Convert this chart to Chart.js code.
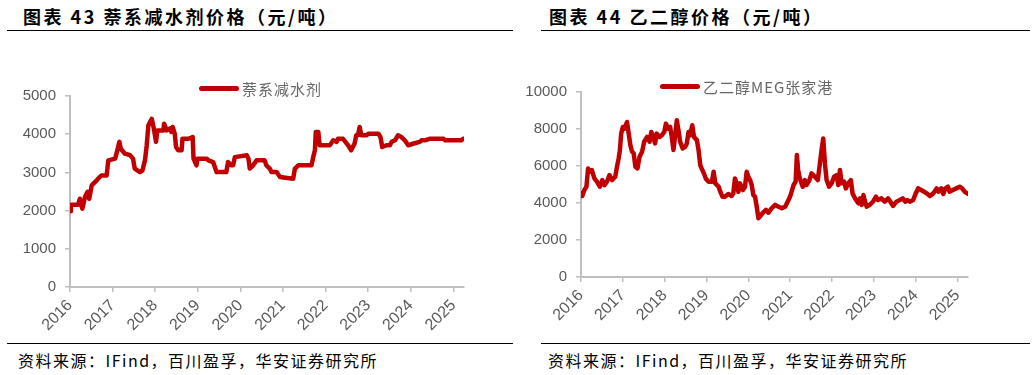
<!DOCTYPE html>
<html>
<head>
<meta charset="utf-8">
<script src="https://cdn.jsdelivr.net/npm/chart.js@4.4.1/dist/chart.umd.min.js"></script>
<style>
  body { margin: 0; background: #fff; width: 1034px; height: 375px; position: relative; overflow: hidden;
         font-family: "Noto Sans CJK SC", "Liberation Sans", sans-serif; }
  .title { position: absolute; top: 3px; font-size: 18px; letter-spacing: 2.5px; font-weight: bold; color: #000; }
  .rule { position: absolute; height: 0; border-top: 1.5px solid #000; }
  .src { position: absolute; top: 348px; font-size: 16px; letter-spacing: 1.5px; color: #000; }
  .box { position: absolute; top: 40px; height: 300px; }
  .legend { position: absolute; font-size: 15px; letter-spacing: 1px; color: #666; display: flex; align-items: center; }
  .legend i { display: inline-block; width: 40px; height: 5px; border-radius: 3px; background: #C00000; margin-right: 3px; }
</style>
</head>
<body>
<div class="title" style="left:23px">图表 43 萘系减水剂价格（元/吨）</div>
<div class="title" style="left:549px">图表 44 乙二醇价格（元/吨）</div>
<div class="rule" style="left:7px;width:506px;top:30px"></div>
<div class="rule" style="left:541px;width:489px;top:30px"></div>
<div class="rule" style="left:7px;width:506px;top:343px"></div>
<div class="rule" style="left:541px;width:489px;top:343px"></div>
<div class="src" style="left:18px">资料来源：IFind，百川盈孚，华安证券研究所</div>
<div class="src" style="left:548px">资料来源：IFind，百川盈孚，华安证券研究所</div>

<div class="box" style="left:0;width:520px"><canvas id="c1"></canvas></div>
<div class="box" style="left:520px;width:514px"><canvas id="c2"></canvas></div>
<div class="legend" style="left:199px;top:78px"><i></i>萘系减水剂</div>
<div class="legend" style="left:660px;top:76px"><i></i>乙二醇MEG张家港</div>

<script>
// 萘系减水剂 (元/吨), x = 年份(小数)
const nsX = [2016.00,2016.02,2016.19,2016.23,2016.29,2016.35,2016.41,2016.45,2016.51,2016.59,2016.66,2016.74,2016.86,2016.90,
  2017.06,2017.10,2017.16,2017.19,2017.29,2017.41,2017.48,2017.52,2017.64,2017.70,2017.76,2017.80,2017.84,2017.92,2017.97,
  2018.02,2018.05,2018.19,2018.21,2018.27,2018.35,2018.38,2018.41,2018.46,2018.49,2018.54,2018.62,2018.64,2018.78,2018.88,2018.90,2018.97,2018.99,
  2019.21,2019.25,2019.36,2019.44,2019.67,2019.71,2019.79,2019.83,2019.87,
  2020.15,2020.19,2020.22,2020.30,2020.38,2020.57,2020.61,2020.69,2020.73,2020.85,2020.93,
  2021.24,2021.28,2021.36,2021.67,2021.71,2021.75,2021.77,2021.83,2021.86,
  2022.10,2022.18,2022.26,2022.29,2022.41,2022.53,2022.60,2022.64,2022.68,2022.72,2022.76,2022.80,2022.84,2022.96,
  2023.00,2023.24,2023.29,2023.33,2023.43,2023.51,2023.55,2023.63,2023.70,2023.78,2023.86,2023.94,
  2024.05,2024.21,2024.25,2024.33,2024.44,2024.77,2024.81,2025.19,2025.23,2025.27];
const nsY = [1980,2150,2150,2310,2050,2350,2490,2310,2660,2750,2835,2920,2920,3315,
  3360,3530,3800,3620,3490,3450,3360,3100,3010,3050,3315,3700,4230,4400,4140,
  3800,4100,4100,4275,4100,4150,4060,4190,4010,3665,3580,3580,3880,3880,3925,3360,3185,3360,
  3360,3315,3270,3010,3010,3270,3185,3185,3400,
  3450,3360,3100,3185,3315,3315,3185,3100,3010,3010,2880,
  2835,3100,3185,3185,3400,3580,4060,4060,3710,
  3710,3840,3800,3880,3880,3710,3580,3665,3750,3970,3970,4190,3970,3970,
  4010,4010,3925,3665,3710,3710,3800,3840,3970,3925,3840,3710,
  3750,3800,3840,3840,3880,3880,3840,3840,3880,3880];

// 乙二醇MEG张家港 (元/吨)
const megX = [2016.00,2016.03,2016.08,2016.13,2016.17,2016.21,2016.26,2016.32,2016.38,2016.45,2016.51,2016.56,2016.62,2016.68,2016.74,2016.82,2016.86,2016.90,2016.93,2016.96,
  2017.00,2017.04,2017.10,2017.14,2017.18,2017.22,2017.26,2017.30,2017.35,2017.40,2017.46,2017.51,2017.58,2017.64,2017.68,2017.73,2017.77,2017.81,2017.88,2017.93,2017.99,
  2018.03,2018.08,2018.13,2018.17,2018.21,2018.25,2018.29,2018.33,2018.37,2018.43,2018.49,2018.53,2018.57,2018.61,2018.66,2018.70,2018.77,2018.81,2018.85,2018.90,2018.94,2018.98,
  2019.05,2019.13,2019.17,2019.21,2019.29,2019.33,2019.38,2019.44,2019.52,2019.60,2019.64,2019.68,2019.72,2019.76,2019.80,2019.87,2019.92,2019.96,
  2020.00,2020.04,2020.08,2020.12,2020.16,2020.20,2020.24,2020.28,2020.34,2020.42,2020.48,2020.56,2020.64,2020.72,2020.80,2020.88,2020.96,
  2021.01,2021.08,2021.13,2021.16,2021.19,2021.23,2021.30,2021.35,2021.39,2021.46,2021.51,2021.59,2021.66,2021.71,2021.75,2021.79,2021.83,2021.87,2021.93,2021.99,
  2022.05,2022.11,2022.15,2022.19,2022.23,2022.29,2022.33,2022.39,2022.45,2022.49,2022.55,2022.63,2022.67,2022.71,2022.75,2022.79,2022.83,2022.90,2022.98,
  2023.05,2023.10,2023.18,2023.26,2023.34,2023.42,2023.46,2023.54,2023.62,2023.69,2023.75,2023.80,2023.86,2023.94,
  2024.00,2024.06,2024.13,2024.20,2024.28,2024.34,2024.42,2024.50,2024.55,2024.61,2024.66,2024.71,2024.77,2024.81,2024.89,2024.97,
  2025.05,2025.11,2025.17,2025.25];
const megY = [4520,4380,4700,4880,5870,5690,5780,5330,5150,4880,5240,4970,5150,5510,5240,5420,5960,6410,6860,7750,
  8110,8020,8380,7750,7130,6770,6680,5960,5870,6500,6770,7310,7570,7310,7840,7570,7220,7750,7570,7660,7840,
  8290,8020,8110,7570,6860,7660,8470,7930,7310,6950,7040,7220,7840,7660,8200,7570,7400,6860,6050,5780,5600,5330,
  5150,5150,5690,5060,4880,4610,4340,4340,4490,4380,4520,5330,5060,4610,5060,4700,4880,5690,
  5420,5240,4970,4430,4340,3800,3180,3270,3450,3630,3480,3720,3900,3800,3720,3800,4160,
  4430,4970,5150,6590,5780,5330,4880,5240,4970,5240,5600,5420,5240,6140,6860,7490,6140,5240,4880,5060,
  5420,5510,4970,5780,5060,5150,4790,5060,5240,4520,4250,3980,4250,3900,4430,4070,3800,3900,4070,
  4340,4160,4250,4070,4250,3980,3840,4070,4160,4250,4070,4160,4070,4160,
  4520,4790,4700,4610,4490,4380,4520,4790,4610,4790,4490,4790,4880,4610,4700,4790,
  4880,4790,4610,4490];

const yearMin = 2016, yearMax = 2025.25;

function makeChart(id, xs, ys, label, yMax, yStep, pad, yWidth, xHeight) {
  const pts = xs.map((x, i) => ({ x: x, y: ys[i] }));
  const axisGray = '#BFBFBF';
  const tickFont = { family: '"Liberation Sans", Arial, sans-serif', size: 15 };
  return new Chart(document.getElementById(id), {
    type: 'line',
    data: {
      datasets: [{
        label: label,
        data: pts,
        borderColor: '#C00000',
        borderWidth: 4.5,
        pointRadius: 0,
        tension: 0,
        borderJoinStyle: 'round',
        borderCapStyle: 'round'
      }]
    },
    options: {
      responsive: true,
      maintainAspectRatio: false,
      animation: false,
      layout: { padding: pad },
      plugins: { legend: { display: false }, tooltip: { enabled: false } },
      scales: {
        x: {
          type: 'linear',
          min: yearMin,
          max: yearMax,
          afterFit(s) { s.height = xHeight; },
          grid: { drawOnChartArea: false, drawTicks: true, tickLength: 5, color: axisGray, lineWidth: 1.5 },
          border: { color: axisGray, width: 2 },
          ticks: {
            stepSize: 1,
            includeBounds: false,
            autoSkip: false,
            maxRotation: 45,
            minRotation: 45,
            color: '#595959',
            font: { family: tickFont.family, size: 16 },
            padding: 4,
            callback: v => Number.isInteger(v) ? String(v) : null
          }
        },
        y: {
          min: 0,
          max: yMax,
          afterFit(s) { s.width = yWidth; },
          grid: { drawOnChartArea: false, drawTicks: true, tickLength: 5, color: axisGray, lineWidth: 1.5 },
          border: { color: axisGray, width: 2 },
          ticks: { stepSize: yStep, color: '#595959', font: tickFont, padding: 9, callback: v => String(v) }
        }
      }
    }
  });
}

makeChart('c1', nsX, nsY, '萘系减水剂', 5000, 1000, { left: 0, right: 56, top: 56, bottom: 0 }, 70, 53);
makeChart('c2', megX, megY, '乙二醇MEG张家港', 10000, 2000, { left: 0, right: 66, top: 52, bottom: 0 }, 61, 63);
</script>
</body>
</html>
